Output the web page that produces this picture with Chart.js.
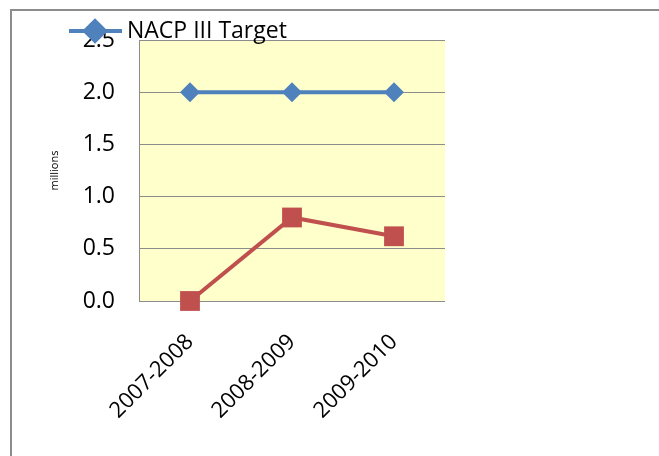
<!DOCTYPE html>
<html>
<head>
<meta charset="utf-8">
<script src="https://cdn.jsdelivr.net/npm/chart.js@4"></script>
<style>
    body { margin: 0; background: #fff; overflow: hidden; }
    #frame {
        position: absolute; left: 10px; top: 9px;
        width: 700px; height: 500px;
        border-left: 2px solid #8c8c8c; border-top: 2px solid #8c8c8c;
    }
    #wrap { position: absolute; left: 0; top: 0; width: 659px; height: 456px; }
</style>
</head>
<body>
<div id="frame"></div>
<div id="wrap"><canvas id="lineChart"></canvas></div>
<script>
// Data
const periods = ['2007-2008', '2008-2009', '2009-2010'];
const targetValues = [2.0, 2.0, 2.0];
const actualValues = [0.0, 0.8, 0.62];
const yTicks = [0, 0.5, 1.0, 1.5, 2.0, 2.5];

const colors = {
    target: '#4f81bd',
    actual: '#c0504d',
    plotBg: '#ffffcc',
    grid: '#8c8c8c'
};

const fontFamily = "'Open Sans', sans-serif";

// yellow plot area
const plotBackground = {
    id: 'plotBackground',
    beforeDraw(chart) {
        const { ctx, chartArea: a } = chart;
        ctx.save();
        ctx.fillStyle = colors.plotBg;
        ctx.fillRect(a.left, a.top, a.right - a.left, a.bottom - a.top);
        ctx.restore();
    }
};

// legend shows only the target series, sitting over the top of the plot
const targetLegend = {
    id: 'targetLegend',
    afterDraw(chart) {
        const ctx = chart.ctx;
        const ds = chart.data.datasets[0];
        const y = 31;
        ctx.save();
        ctx.strokeStyle = ds.borderColor;
        ctx.lineWidth = ds.borderWidth;
        ctx.beginPath();
        ctx.moveTo(69, y);
        ctx.lineTo(122, y);
        ctx.stroke();
        Chart.helpers.drawPoint(ctx, {
            pointStyle: ds.pointStyle, radius: ds.pointRadius,
            borderWidth: 1
        }, 95, y);
        ctx.fillStyle = ds.pointBackgroundColor;
        ctx.fill();
        ctx.fillStyle = '#000';
        ctx.font = '23px ' + fontFamily;
        ctx.textBaseline = 'alphabetic';
        ctx.fillText(ds.label, 127, 38);
        ctx.restore();
    }
};

new Chart(document.getElementById('lineChart'), {
    type: 'line',
    data: {
        labels: periods,
        datasets: [
            {
                label: 'NACP III Target',
                data: targetValues,
                borderColor: colors.target,
                backgroundColor: colors.target,
                borderWidth: 4,
                pointStyle: 'rectRot',
                pointRadius: 10,
                pointBorderWidth: 0,
                pointBackgroundColor: colors.target,
                tension: 0,
                clip: false
            },
            {
                label: 'Actual',
                data: actualValues,
                borderColor: colors.actual,
                backgroundColor: colors.actual,
                borderWidth: 4,
                pointStyle: 'rect',
                pointRadius: 14,
                pointBorderWidth: 0,
                pointBackgroundColor: colors.actual,
                tension: 0,
                clip: false
            }
        ]
    },
    options: {
        responsive: true,
        maintainAspectRatio: false,
        animation: false,
        layout: { padding: { left: 0, right: 214, top: 40, bottom: 0 } },
        plugins: {
            legend: { display: false },
            tooltip: { enabled: false }
        },
        scales: {
            x: {
                offset: true,
                grid: { display: false, drawTicks: false },
                border: { display: false },
                ticks: {
                    color: '#000',
                    font: { family: fontFamily, size: 22 },
                    minRotation: 45,
                    maxRotation: 45,
                    padding: 28
                },
                afterFit(scale) { scale.height = 155; }
            },
            y: {
                min: 0,
                max: 2.5,
                afterBuildTicks(scale) {
                    scale.ticks = yTicks.map(v => ({ value: v }));
                },
                grid: { color: colors.grid, lineWidth: 1, drawTicks: false },
                border: { display: true, color: colors.grid, width: 1 },
                ticks: {
                    color: '#000',
                    font: { family: fontFamily, size: 23 },
                    padding: 24,
                    callback: v => Number(v).toFixed(1)
                },
                title: {
                    display: true,
                    text: 'millions',
                    color: '#000',
                    font: { family: fontFamily, size: 11 },
                    padding: { top: 48, bottom: 0 }
                },
                afterFit(scale) { scale.width = 139; }
            }
        }
    },
    plugins: [plotBackground, targetLegend]
});
</script>
</body>
</html>
